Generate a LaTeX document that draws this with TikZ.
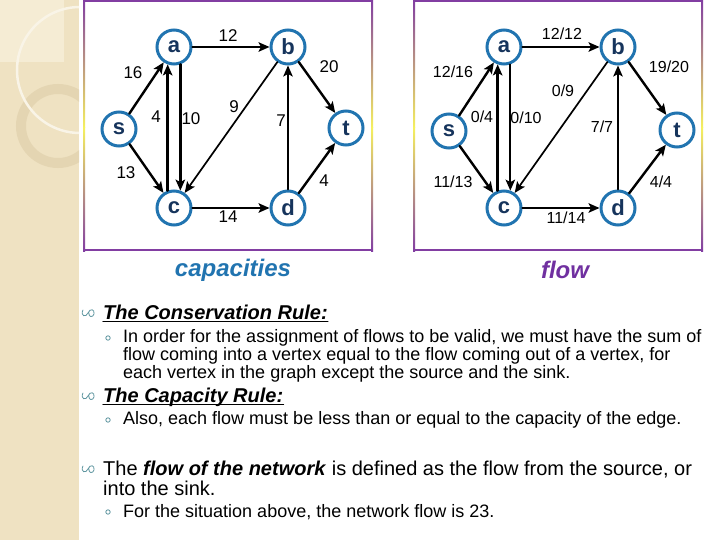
\documentclass[tikz,border=0pt]{standalone}
\usepackage{fontspec}
\setmainfont{Liberation Sans}
\usetikzlibrary{arrows.meta}

\definecolor{nodeblue}{RGB}{33,116,176}
\definecolor{nodeink}{RGB}{22,52,92}
\definecolor{flowpurple}{RGB}{112,48,160}
\definecolor{framepurple}{RGB}{130,62,162}
\definecolor{frameblue}{RGB}{60,80,165}
\definecolor{frameyellow}{RGB}{245,240,95}
\definecolor{framebrown}{RGB}{190,110,95}
\definecolor{paper}{RGB}{239,226,194}
\definecolor{paperlight}{RGB}{245,236,212}
\definecolor{ringtone}{RGB}{228,213,178}
\definecolor{bullteal}{RGB}{95,150,160}

\newcommand{\fsz}[1]{\fontsize{#1}{#1}\selectfont}

\begin{document}
\begin{tikzpicture}[x=1pt, y=-1pt, line cap=round,
  >={Stealth[length=11pt, width=9.5pt, inset=2.5pt]},
  vert/.style={draw=nodeblue, line width=3pt, circle, minimum size=34pt, inner sep=0pt,
    font=\fsz{22}\bfseries, text=nodeink},
  arc/.style={->, line width=2.4pt},
  thinarc/.style={->, line width=1.7pt},
  caplab/.style={font=\fsz{17}, inner sep=0pt},
  flowlab/.style={font=\fsz{16}, inner sep=0pt},
  head/.style={font=\fsz{20}\bfseries\itshape, anchor=base west, inner sep=0pt},
  body/.style={font=\fsz{18}, anchor=base west, align=left, inner sep=0pt},
  bull/.style={draw=bullteal, line width=0.8pt}]
\useasboundingbox (0,0) rectangle (720,540);

% beige side strip with its faint circles
\fill[paper] (0,0) rectangle (79,540);
\begin{scope}
  \clip (0,0) rectangle (79,540);
  \fill[paperlight] (0,0) rectangle (64,62);
  \draw[ringtone, line width=10pt] (58,126) circle (37);
  \draw[white!60!paper, line width=2.5pt] (80,70) circle (63);
\end{scope}

% the two frames, sides shaded purple - blue - yellow - brown - purple
\foreach \xl/\xr in {84/372, 414/702} {
  \draw[framepurple, line width=2pt] (\xl,1) -- (\xr,1);
  \draw[framepurple, line width=2pt] (\xl,250) -- (\xr,250);
  \foreach \xx in {\xl, \xr} {
    \shade[top color=framepurple, middle color=frameblue, bottom color=frameyellow]
      (\xx-1,0) rectangle (\xx+1,128);
    \shade[top color=frameyellow, middle color=framebrown, bottom color=framepurple]
      (\xx-1,128) rectangle (\xx+1,251);
  }
}

% capacities
\node[vert] (cs) at (119,129) {s};
\node[vert] (ca) at (174,47) {a};
\node[vert] (cb) at (288,47) {b};
\node[vert] (cc) at (174,208) {c};
\node[vert] (cd) at (288,208) {d};
\node[vert] (ct) at (346,128) {t};
\draw[arc] (cs) -- (ca);
\draw[arc] (cs) -- (cc);
\draw[arc] (ca) -- (cb);
\draw[arc] (cc.110) -- (ca.-110);
\draw[arc] (ca.-70) -- (cc.70);
\draw[thinarc] (cb) -- (cc);
\draw[arc] (cc) -- (cd);
\draw[thinarc] (cd) -- (cb);
\draw[arc] (cb) -- (ct);
\draw[arc] (cd) -- (ct);
\node[caplab] (l-ab) at (228,36) {12};
\node[caplab] (l-bt) at (329,67) {20};
\node[caplab] (l-sa) at (133,73) {16};
\node[caplab] (l-ca) at (156,117) {4};
\node[caplab] (l-ac) at (191,119) {10};
\node[caplab] (l-bc) at (234,107) {9};
\node[caplab] (l-db) at (281,121) {7};
\node[caplab] (l-sc) at (126,173) {13};
\node[caplab] (l-dt) at (324,181) {4};
\node[caplab] (l-cd) at (228,217) {14};
\node[font=\fsz{24}\bfseries\itshape, text=nodeblue] (capt) at (233,270) {capacities};

% flow
\node[vert] (fs) at (449,131) {s};
\node[vert] (fa) at (504,47) {a};
\node[vert] (fb) at (618,47) {b};
\node[vert] (fc) at (504,208) {c};
\node[vert] (fd) at (618,208) {d};
\node[vert] (ft) at (677,130) {t};
\draw[arc] (fs) -- (fa);
\draw[arc] (fs) -- (fc);
\draw[arc] (fa) -- (fb);
\draw[arc] (fc.110) -- (fa.-110);
\draw[thinarc] (fa.-70) -- (fc.70);
\draw[thinarc] (fb) -- (fc);
\draw[arc] (fc) -- (fd);
\draw[thinarc] (fd) -- (fb);
\draw[arc] (fb) -- (ft);
\draw[arc] (fd) -- (ft);
\node[flowlab] (m-ab) at (562,34) {12/12};
\node[flowlab] (m-bt) at (669,67) {19/20};
\node[flowlab] (m-sa) at (453,72) {12/16};
\node[flowlab] (m-ca) at (482,117) {0/4};
\node[flowlab] (m-ac) at (526,118) {0/10};
\node[flowlab] (m-bc) at (563,91) {0/9};
\node[flowlab] (m-db) at (602,127) {7/7};
\node[flowlab] (m-sc) at (453,182) {11/13};
\node[flowlab] (m-dt) at (661,182) {4/4};
\node[flowlab] (m-cd) at (566,218) {11/14};
\node[font=\fsz{24}\bfseries\itshape, text=flowpurple] (flowt) at (565,270) {flow};

% the rules (a multi-line node sits on the baseline of its last line)
\foreach \yy in {313, 396, 469}
  \draw[bull] (83,\yy-3) .. controls (80,\yy+3) and (86,\yy+5) .. (88,\yy)
    .. controls (90,\yy-5) and (95,\yy-4) .. (94,\yy+1)
    .. controls (93,\yy+5) and (88,\yy+4) .. (89,\yy);
\foreach \yy in {338, 420, 512}
  \draw[bull] (108,\yy) circle (2.2);

\node[head] (rule1) at (103,319) {The Conservation Rule:};
\draw[line width=1.3pt] ([yshift=-2.5pt]rule1.base west) -- ([yshift=-2.5pt]rule1.base east);
\node[body] (rule1t) at (123,378) {In order for the assignment of flows to be valid, we must have the sum of\\
  flow coming into a vertex equal to the flow coming out of a vertex, for\\
  each vertex in the graph except the source and the sink.};

\node[head] (rule2) at (103,402) {The Capacity Rule:};
\draw[line width=1.3pt] ([yshift=-2.5pt]rule2.base west) -- ([yshift=-2.5pt]rule2.base east);
\node[body] (rule2t) at (123,424) {Also, each flow must be less than or equal to the capacity of the edge.};

\node[body, font=\fsz{20}] (netflow) at (103,495) {The \textbf{\textit{flow of the network}} is defined as the flow from the source, or\\
  into the sink.};
\node[body] (netflowt) at (123,517) {For the situation above, the network flow is 23.};

\end{tikzpicture}
\end{document}
